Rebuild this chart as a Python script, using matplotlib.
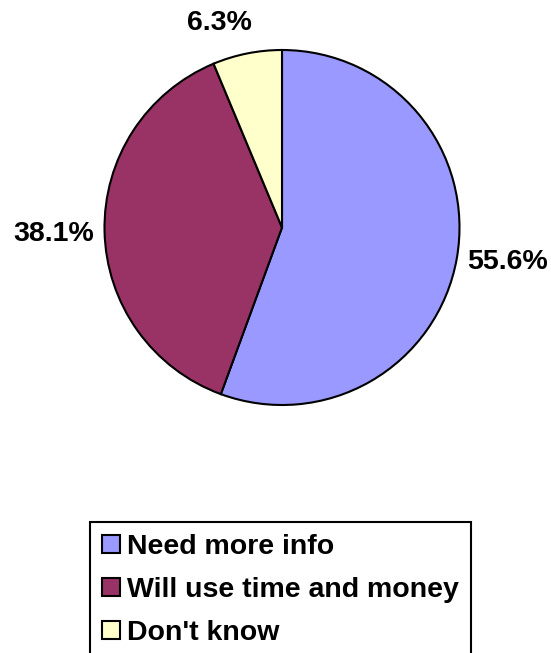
import numpy as np
import matplotlib
matplotlib.use("Agg")
import matplotlib.pyplot as plt
from matplotlib.patches import Patch

labels = ["Need more info", "Will use time and money", "Don't know"]
shares = [55.6, 38.1, 6.3]
colors = ["#9999FF", "#993366", "#FFFFCC"]

# label placement (radii from centre, degrees of nudge off the slice middle)
label_dist = [1.285, 1.285, 1.207]
label_nudge = [1.4, 0.3, 5.7]

plt.rcParams['font.family'] = ['Liberation Sans', 'DejaVu Sans']
plt.rcParams['font.weight'] = 'bold'
FS = 20.5

W, H = 551, 653
fig = plt.figure(figsize=(W / 100, H / 100), dpi=100)
fig.patch.set_facecolor('white')

# pie area: centre (282, 227.5) px from top-left, radius ~177.5 px
cx, cy, r = 282, 227.5, 177.5
ax = fig.add_axes([(cx - r) / W, (H - cy - r) / H, 2 * r / W, 2 * r / H])

wedges, _ = ax.pie(shares, colors=colors, startangle=90, counterclock=False,
                   radius=1.0, wedgeprops=dict(edgecolor='black', linewidth=1.5))
ax.set_xlim(-1, 1)
ax.set_ylim(-1, 1)
ax.axis('off')

for w, val, d, nudge in zip(wedges, shares, label_dist, label_nudge):
    mid = np.deg2rad((w.theta1 + w.theta2) / 2 + nudge)
    ax.text(d * np.cos(mid), d * np.sin(mid), f"{val:.1f}%", ha='center', va='center',
            fontsize=FS, fontweight='bold', clip_on=False)

handles = [Patch(facecolor=c, edgecolor='black', linewidth=1.5) for c in colors]
leg = fig.legend(handles, labels, loc='upper left', bbox_to_anchor=(90 / W, 1 - 522 / H),
                 bbox_transform=fig.transFigure, borderaxespad=0, fancybox=False,
                 frameon=True, framealpha=1, edgecolor='black',
                 prop=dict(size=FS, weight='bold'),
                 handlelength=0.62, handleheight=0.62, handletextpad=0.25,
                 labelspacing=0.6, borderpad=0.42)
leg.get_frame().set_linewidth(1.5)

fig.savefig("out.png", dpi=100, facecolor='white')
